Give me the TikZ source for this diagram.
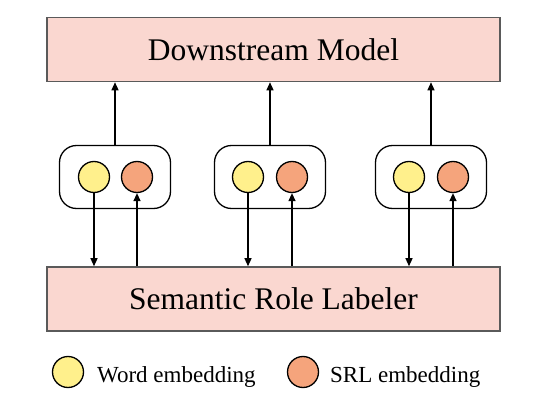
\documentclass[tikz,border=0pt]{standalone}
\usepackage{fontspec}
\setmainfont{Liberation Serif}
\usetikzlibrary{arrows.meta}

\definecolor{boxpink}{HTML}{FAD7D0}
\definecolor{boxgray}{HTML}{5A5A5A}
\definecolor{wordyellow}{HTML}{FFF08C}
\definecolor{srlorange}{HTML}{F5A47C}

\tikzset{
  bigbox/.style={draw=boxgray,fill=boxpink,line width=1.6pt,minimum width=453pt,minimum height=64pt,inner sep=0pt,font=\fontsize{31.5}{38}\selectfont},
  group/.style={draw,rounded corners=17pt,line width=1.3pt,minimum width=111pt,minimum height=63pt},
  wordemb/.style={circle,draw,fill=wordyellow,line width=1.3pt,minimum size=31pt,inner sep=0pt},
  srlemb/.style={circle,draw,fill=srlorange,line width=1.3pt,minimum size=31pt,inner sep=0pt},
  arr/.style={-{Triangle[length=8pt,width=7pt]},line width=1.3pt},
  legend/.style={anchor=base west,inner sep=0pt,font=\fontsize{23}{28}\selectfont}
}

\begin{document}
\begin{tikzpicture}[x=1pt,y=-1pt]
\useasboundingbox (0,0) rectangle (544,401);
\node[bigbox] (model) at (273.5,49.5) {Downstream Model};
\node[bigbox] (srl) at (273.5,299) {Semantic Role Labeler};
% embedding groups
\node[group] (g1) at (115,177) {};
\node[wordemb] (w1) at (94,177) {};
\node[srlemb] (s1) at (137,177) {};
\node[group] (g2) at (270,177) {};
\node[wordemb] (w2) at (248,177) {};
\node[srlemb] (s2) at (292,177) {};
\node[group] (g3) at (431,177) {};
\node[wordemb] (w3) at (409,177) {};
\node[srlemb] (s3) at (453,177) {};
% connections
\draw[arr] (g1.north) -- (g1.north |- model.south);
\draw[arr] (g2.north) -- (g2.north |- model.south);
\draw[arr] (g3.north) -- (g3.north |- model.south);
\draw[arr] (w1.south) -- (w1.south |- srl.north);
\draw[arr] (s1.south |- srl.north) -- (s1.south);
\draw[arr] (w2.south) -- (w2.south |- srl.north);
\draw[arr] (s2.south |- srl.north) -- (s2.south);
\draw[arr] (w3.south) -- (w3.south |- srl.north);
\draw[arr] (s3.south |- srl.north) -- (s3.south);
% legend
\node[wordemb] (lw) at (68,372) {};
\node[legend] (lwtext) at (97,382) {Word embedding};
\node[srlemb] (ls) at (303,372) {};
\node[legend] (lstext) at (330,382) {SRL embedding};
\end{tikzpicture}
\end{document}
